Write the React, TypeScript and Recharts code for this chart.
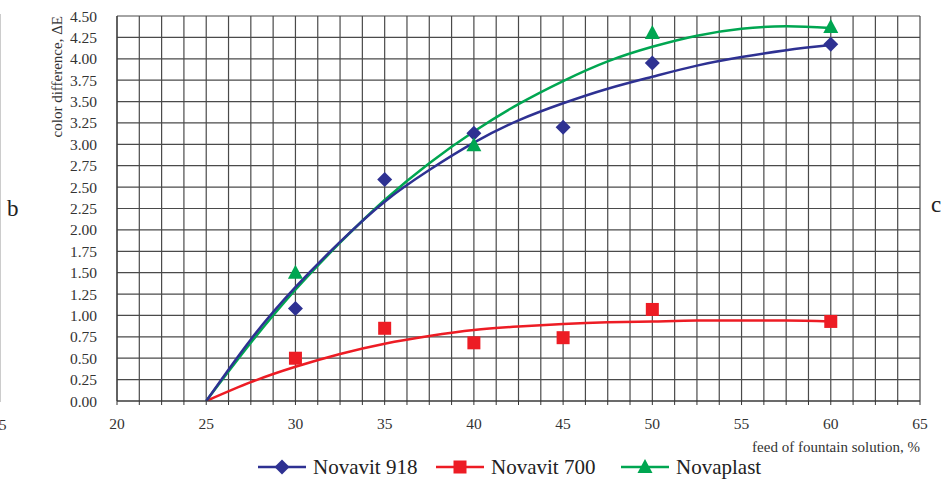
import React from "react"
import { ComposedChart, Line, Scatter, XAxis, YAxis, CartesianGrid, Label } from "recharts"

// measured points
const feed = [30, 35, 40, 45, 50, 60]
const novavit918 = [1.08, 2.59, 3.13, 3.2, 3.95, 4.17]
const novavit700 = [0.5, 0.85, 0.68, 0.74, 1.07, 0.93]
const novaplastFeed = [30, 40, 50, 60]
const novaplast = [1.5, 2.99, 4.3, 4.37]

// trend curves
const trendFeed = [25, 27.5, 30, 32.5, 35, 37.5, 40, 42.5, 45, 47.5, 50, 52.5, 55, 57.5, 60]
const trend918 = [0, 0.72, 1.33, 1.86, 2.33, 2.7, 3.02, 3.28, 3.48, 3.65, 3.79, 3.92, 4.02, 4.1, 4.16]
const trend700 = [0, 0.22, 0.4, 0.55, 0.67, 0.76, 0.83, 0.87, 0.9, 0.92, 0.93, 0.94, 0.94, 0.94, 0.93]
const trendPlast = [0, 0.68, 1.3, 1.85, 2.35, 2.78, 3.15, 3.47, 3.74, 3.97, 4.14, 4.27, 4.35, 4.38, 4.36]

const xTicks = Array.from({ length: 37 }, (_, i) => 20 + i * 1.25)
const yTicks = Array.from({ length: 19 }, (_, i) => i * 0.25)

const BLUE = "#2E3192"
const RED = "#ED1C24"
const GREEN = "#00A651"
const FONT = "Liberation Serif, Times New Roman, Times, serif"

const toPts = (xs: number[], ys: number[]) => xs.map((x, i) => ({ x, y: ys[i] }))

const Diamond = (p: any) => (
  <path d={`M${p.cx},${p.cy - 7.5}L${p.cx + 7.5},${p.cy}L${p.cx},${p.cy + 7.5}L${p.cx - 7.5},${p.cy}Z`} fill={BLUE} />
)
const Square = (p: any) => <rect x={p.cx - 6.5} y={p.cy - 6.5} width={13} height={13} fill={RED} />
const Triangle = (p: any) => (
  <path d={`M${p.cx},${p.cy - 8}L${p.cx + 7.5},${p.cy + 6}L${p.cx - 7.5},${p.cy + 6}Z`} fill={GREEN} />
)

const legendItems = [
  { name: "Novavit 918", color: BLUE, left: 258, marker: "diamond" },
  { name: "Novavit 700", color: RED, left: 436, marker: "square" },
  { name: "Novaplast", color: GREEN, left: 621, marker: "triangle" },
]

const LegendMarker = ({ color, marker }: { color: string; marker: string }) => (
  <svg width={48} height={18} style={{ display: "block" }}>
    <line x1={0} y1={9} x2={48} y2={9} stroke={color} strokeWidth={2.5} />
    {marker === "diamond" && <path d="M24,1.5L31.5,9L24,16.5L16.5,9Z" fill={color} />}
    {marker === "square" && <rect x={17.5} y={2.5} width={13} height={13} fill={color} />}
    {marker === "triangle" && <path d="M24,1L31.5,15L16.5,15Z" fill={color} />}
  </svg>
)

export default function App() {
  return (
    <div style={{ position: "absolute", left: 0, top: 0, width: 943, height: 479, background: "#fff", fontFamily: FONT }}>
      <div style={{ position: "absolute", left: 0, top: 14, width: 1, height: 388, background: "#ccc" }} />
      <div style={{ position: "absolute", left: 7, top: 196, fontSize: 23, color: "#222" }}>b</div>
      <div style={{ position: "absolute", left: 931, top: 192, fontSize: 23, color: "#222" }}>c</div>
      <div style={{ position: "absolute", left: -1, top: 417, fontSize: 15, color: "#333" }}>5</div>
      <ComposedChart width={943} height={479} margin={{ top: 16, right: 23, left: 0, bottom: 0 }} style={{ fontFamily: FONT }}>
        <CartesianGrid stroke="#4a4a4a" strokeWidth={1.2} horizontalValues={yTicks} verticalValues={xTicks} />
        <XAxis
          type="number"
          dataKey="x"
          domain={[20, 65]}
          ticks={xTicks}
          interval={0}
          height={78}
          tickSize={4}
          tickMargin={13}
          stroke="#333"
          tick={{ fill: "#333", fontSize: 15.5, fontFamily: FONT }}
          tickFormatter={(v: number) => (v % 5 === 0 ? String(v) : "")}
          allowDataOverflow
        >
          <Label
            content={() => (
              <text x={920} y={452} textAnchor="end" fontSize={15} fontFamily={FONT} fill="#333">
                feed of fountain solution, %
              </text>
            )}
          />
        </XAxis>
        <YAxis
          type="number"
          dataKey="y"
          domain={[0, 4.5]}
          ticks={yTicks}
          interval={0}
          width={117}
          tickLine={false}
          tickSize={6}
          tickMargin={14}
          stroke="#333"
          tick={{ fill: "#333", fontSize: 15.5, fontFamily: FONT }}
          tickFormatter={(v: number) => v.toFixed(2)}
          allowDataOverflow
        >
          <Label
            content={() => (
              <text x={62} y={16} transform="rotate(-90 62 16)" textAnchor="end" fontSize={15} fontFamily={FONT} fill="#333">
                color difference, ΔE
              </text>
            )}
          />
        </YAxis>
        <Line data={toPts(trendFeed, trend700)} dataKey="y" type="natural" stroke={RED} strokeWidth={2.5} dot={false} isAnimationActive={false} />
        <Line data={toPts(trendFeed, trendPlast)} dataKey="y" type="natural" stroke={GREEN} strokeWidth={2.5} dot={false} isAnimationActive={false} />
        <Line data={toPts(trendFeed, trend918)} dataKey="y" type="natural" stroke={BLUE} strokeWidth={2.5} dot={false} isAnimationActive={false} />
        <Scatter data={toPts(feed, novavit918)} dataKey="y" shape={Diamond} isAnimationActive={false} />
        <Scatter data={toPts(feed, novavit700)} dataKey="y" shape={Square} isAnimationActive={false} />
        <Scatter data={toPts(novaplastFeed, novaplast)} dataKey="y" shape={Triangle} isAnimationActive={false} />
      </ComposedChart>
      {legendItems.map((it) => (
        <div key={it.name} style={{ position: "absolute", left: it.left, top: 454, display: "flex", alignItems: "center", gap: 7, fontSize: 21, color: "#222", whiteSpace: "nowrap" }}>
          <LegendMarker color={it.color} marker={it.marker} />
          <span style={{ lineHeight: "26px" }}>{it.name}</span>
        </div>
      ))}
    </div>
  )
}
